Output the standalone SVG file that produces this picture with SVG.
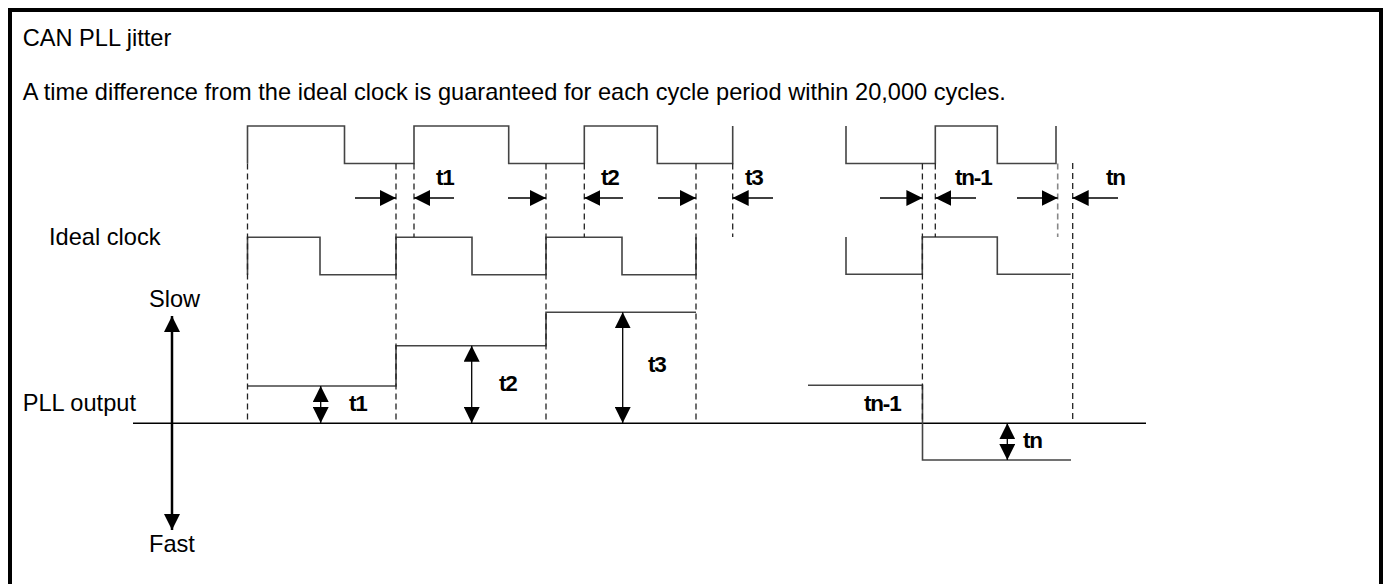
<svg xmlns="http://www.w3.org/2000/svg" width="1385" height="584" viewBox="0 0 1385 584">
<style>
.t{font-family:"Liberation Sans",Arial,sans-serif;font-size:23.6px;fill:#000}
.b{font-family:"Liberation Sans",Arial,sans-serif;font-size:22.5px;font-weight:bold;fill:#000;letter-spacing:-1.2px}
.w{fill:none;stroke:#444;stroke-width:1.6}
.d{fill:none;stroke:#222;stroke-width:1.3;stroke-dasharray:6,4}
.dg{fill:none;stroke:#888;stroke-width:1.6;stroke-dasharray:6,4}
.a{fill:none;stroke:#000;stroke-width:1.3}
</style>
<defs>
<marker id="h" viewBox="0 0 16 16" markerWidth="16" markerHeight="16" refX="16" refY="8" orient="auto" markerUnits="userSpaceOnUse"><path d="M0,0 L16,8 L0,16 Z" fill="#000"/></marker>
<marker id="hs" viewBox="0 0 16 16" markerWidth="16" markerHeight="16" refX="16" refY="8" orient="auto-start-reverse" markerUnits="userSpaceOnUse"><path d="M0,0 L16,8 L0,16 Z" fill="#000"/></marker>
</defs>
<rect x="10" y="10" width="1371" height="580" fill="#fff" stroke="#000" stroke-width="4"/>
<g id="texts">
<text class="t" x="22.7" y="46">CAN PLL jitter</text>
<text class="t" x="22.7" y="100">A time difference from the ideal clock is guaranteed for each cycle period within 20,000 cycles.</text>
<text class="t" x="49" y="245">Ideal clock</text>
<text class="t" x="22.7" y="410.7">PLL output</text>
<text class="t" x="149" y="307">Slow</text>
<text class="t" x="149" y="552">Fast</text>
</g>
<g id="pll-clock-top">
<path class="w" d="M247.5,163.5 V126 H344.5 V163.5 H414 V126 H508.7 V163.5 H584.3 V126 H657.3 V163.5 H732.7 V126"/>
<path class="w" d="M846,126 V163.5 H935.3 V126 H997.3 V163.5 H1056 V126"/>
</g>
<g id="ideal-clock">
<path class="w" d="M247.5,274.7 V237.3 H320 V274.7 H396 V237.3 H472 V274.7 H546 V237.3 H622 V274.7 H696 V237.3"/>
<path class="w" d="M846,237 V274.3 H922.3 V237 H997.3 V274.3 H1070.7"/>
</g>
<g id="pll-output">
<line x1="133" y1="423.3" x2="1146" y2="423.3" stroke="#000" stroke-width="1.6"/>
<path class="w" d="M247.5,386 H396 V345.7 H546 V312.3 H696"/>
<path class="w" d="M808,385.3 H922.5 V460 H1071"/>
</g>
<g id="guides">
<line class="d" x1="247.5" y1="163.5" x2="247.5" y2="423"/>
<line class="d" x1="396" y1="163.5" x2="396" y2="423"/>
<line class="d" x1="414" y1="163.5" x2="414" y2="237"/>
<line class="d" x1="546" y1="163.5" x2="546" y2="423"/>
<line class="d" x1="584.3" y1="163.5" x2="584.3" y2="237"/>
<line class="d" x1="696" y1="163.5" x2="696" y2="423"/>
<line class="d" x1="732.7" y1="163.5" x2="732.7" y2="237"/>
<line class="d" x1="922.4" y1="163.5" x2="922.4" y2="423"/>
<line class="d" x1="935.3" y1="163.5" x2="935.3" y2="237"/>
<line class="dg" x1="1057.7" y1="163.5" x2="1057.7" y2="237"/>
<line class="d" x1="1072.7" y1="163" x2="1072.7" y2="423"/>
</g>
<g id="connectors">
<line class="a" x1="355" y1="198" x2="396" y2="198" marker-end="url(#h)"/>
<line class="a" x1="454" y1="198" x2="414" y2="198" marker-end="url(#h)"/>
<line class="a" x1="508" y1="198" x2="546" y2="198" marker-end="url(#h)"/>
<line class="a" x1="623" y1="198" x2="584.3" y2="198" marker-end="url(#h)"/>
<line class="a" x1="658" y1="198" x2="696" y2="198" marker-end="url(#h)"/>
<line class="a" x1="773" y1="198" x2="732.7" y2="198" marker-end="url(#h)"/>
<line class="a" x1="880" y1="198" x2="922.4" y2="198" marker-end="url(#h)"/>
<line class="a" x1="976" y1="198" x2="935.3" y2="198" marker-end="url(#h)"/>
<line class="a" x1="1017" y1="198" x2="1057.7" y2="198" marker-end="url(#h)"/>
<line class="a" x1="1118" y1="198" x2="1072.7" y2="198" marker-end="url(#h)"/>
<line class="a" x1="320.7" y1="386" x2="320.7" y2="423" marker-start="url(#hs)" marker-end="url(#hs)"/>
<line class="a" x1="471.7" y1="345.7" x2="471.7" y2="423" marker-start="url(#hs)" marker-end="url(#hs)"/>
<line class="a" x1="622.7" y1="312.3" x2="622.7" y2="423" marker-start="url(#hs)" marker-end="url(#hs)"/>
<line class="a" x1="1007.3" y1="423.3" x2="1007.3" y2="460" marker-start="url(#hs)" marker-end="url(#hs)"/>
<line x1="172" y1="316" x2="172" y2="530" stroke="#000" stroke-width="2.5" marker-start="url(#hs)" marker-end="url(#hs)"/>
</g>
<g id="labels">
<text class="b" x="436" y="185">t1</text>
<text class="b" x="601" y="185">t2</text>
<text class="b" x="745" y="185">t3</text>
<text class="b" x="955" y="185">tn-1</text>
<text class="b" x="1106" y="185">tn</text>
<text class="b" x="349" y="410.7">t1</text>
<text class="b" x="499" y="391">t2</text>
<text class="b" x="648" y="372">t3</text>
<text class="b" x="864" y="411">tn-1</text>
<text class="b" x="1023" y="448">tn</text>
</g>
</svg>
